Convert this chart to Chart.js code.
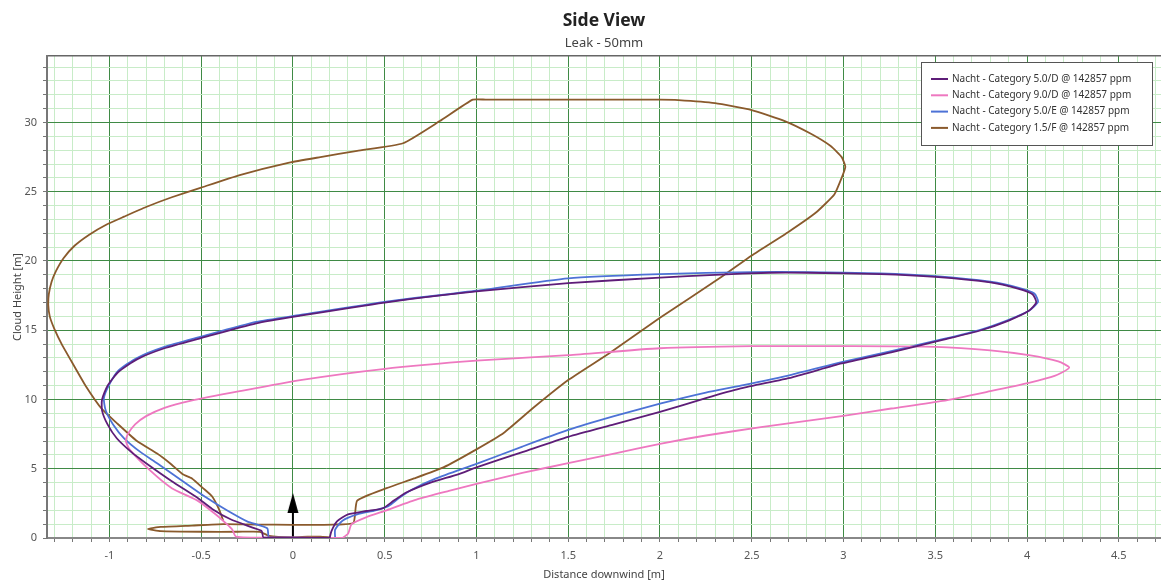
<!DOCTYPE html>
<html><head><meta charset="utf-8">
<script src="https://cdn.jsdelivr.net/npm/chart.js@4.4.1/dist/chart.umd.min.js"></script>
<style>html,body{margin:0;padding:0;background:#fff;}</style>
</head><body>
<canvas id="c" width="1161" height="581"></canvas>
<script>
// ---------- data ----------
const seriesLabels = [
  'Nacht - Category 5.0/D @ 142857 ppm',
  'Nacht - Category 9.0/D @ 142857 ppm',
  'Nacht - Category 5.0/E @ 142857 ppm',
  'Nacht - Category 1.5/F @ 142857 ppm'
];
const cat50D = [[0.20,0.0],[0.21,0.5],[0.24,1.2],[0.30,1.7],[0.40,1.95],[0.49,2.15],[0.55,2.7],[0.62,3.3],[0.75,4.0],[0.90,4.6],[1.0,5.1],[1.25,6.2],[1.5,7.3],[1.75,8.2],[2.0,9.1],[2.25,10.1],[2.44,10.8],[2.72,11.6],[2.99,12.6],[3.26,13.4],[3.54,14.3],[3.75,15.0],[3.90,15.7],[4.01,16.4],[4.05,17.0],[4.03,17.6],[3.95,18.0],[3.80,18.45],[3.5,18.85],[3.2,19.05],[2.8,19.15],[2.6,19.15],[2.3,19.0],[2.0,18.8],[1.5,18.4],[1.0,17.8],[0.5,17.0],[0.04,16.05],[-0.2,15.5],[-0.51,14.4],[-0.70,13.7],[-0.85,12.9],[-0.95,12.0],[-1.01,11.0],[-1.04,10.0],[-1.04,9.2],[-1.01,8.2],[-0.96,7.2],[-0.88,6.2],[-0.80,5.4],[-0.66,4.1],[-0.52,2.9],[-0.44,2.1],[-0.34,1.35],[-0.22,0.75],[-0.17,0.5],[-0.16,0.05],[0.0,0.02],[0.20,0.0]];
const cat90D = [[0.27,0.0],[0.30,0.3],[0.32,1.0],[0.40,1.5],[0.51,2.0],[0.68,2.8],[0.85,3.4],[1.0,3.9],[1.25,4.7],[1.5,5.4],[1.75,6.1],[2.0,6.8],[2.25,7.4],[2.55,8.0],[2.99,8.8],[3.26,9.35],[3.54,9.9],[3.8,10.6],[4.01,11.2],[4.15,11.7],[4.23,12.3],[4.17,12.75],[4.01,13.2],[3.8,13.55],[3.5,13.8],[3.0,13.85],[2.5,13.85],[2.0,13.7],[1.5,13.2],[1.0,12.8],[0.49,12.2],[0.04,11.4],[-0.29,10.6],[-0.56,9.9],[-0.70,9.4],[-0.80,8.8],[-0.86,8.2],[-0.90,7.5],[-0.91,7.0],[-0.89,6.4],[-0.78,4.9],[-0.66,3.6],[-0.52,2.7],[-0.42,1.7],[-0.36,1.0],[-0.33,0.6],[-0.31,0.1],[-0.1,0.02],[0.1,0.02],[0.27,0.0]];
const cat50E = [[0.23,0.0],[0.23,0.6],[0.27,1.25],[0.35,1.7],[0.45,2.0],[0.52,2.3],[0.58,2.9],[0.65,3.5],[0.78,4.3],[1.0,5.35],[1.25,6.6],[1.5,7.8],[1.75,8.8],[2.0,9.7],[2.25,10.5],[2.44,11.0],[2.72,11.8],[2.99,12.7],[3.26,13.5],[3.54,14.35],[3.75,15.05],[3.90,15.75],[4.01,16.4],[4.06,17.05],[4.04,17.65],[3.96,18.05],[3.80,18.5],[3.5,18.9],[3.2,19.1],[2.8,19.2],[2.5,19.2],[2.0,19.05],[1.5,18.75],[1.0,17.85],[0.5,17.05],[0.04,16.1],[-0.2,15.6],[-0.51,14.5],[-0.70,13.8],[-0.85,13.0],[-0.95,12.1],[-1.0,11.1],[-1.03,10.1],[-1.02,9.2],[-0.98,8.2],[-0.92,7.2],[-0.83,6.2],[-0.74,5.4],[-0.60,4.1],[-0.47,2.9],[-0.36,2.0],[-0.25,1.2],[-0.14,0.7],[-0.13,0.05],[0.0,0.02],[0.23,0.0]];
const cat15F = [[-0.38,1.25],[-0.40,2.0],[-0.44,3.0],[-0.49,3.6],[-0.55,4.3],[-0.60,4.6],[-0.67,5.4],[-0.74,6.1],[-0.85,7.0],[-0.96,8.3],[-1.04,9.3],[-1.13,11.0],[-1.20,12.6],[-1.26,14.0],[-1.30,15.1],[-1.325,16.0],[-1.333,16.8],[-1.33,17.6],[-1.315,18.5],[-1.29,19.3],[-1.25,20.2],[-1.19,21.1],[-1.11,21.9],[-1.02,22.6],[-0.92,23.2],[-0.80,23.9],[-0.66,24.6],[-0.50,25.3],[-0.29,26.2],[-0.02,27.1],[0.15,27.5],[0.35,27.95],[0.60,28.5],[0.80,30.1],[0.98,31.65],[1.05,31.65],[2.0,31.65],[2.10,31.62],[2.30,31.4],[2.50,30.9],[2.68,30.1],[2.82,29.2],[2.93,28.3],[2.99,27.5],[3.01,26.8],[2.99,26.0],[2.95,24.8],[2.85,23.5],[2.70,22.1],[2.5,20.4],[2.33,18.8],[2.0,15.9],[1.72,13.3],[1.5,11.4],[1.31,9.4],[1.15,7.6],[1.0,6.4],[0.82,5.1],[0.66,4.3],[0.51,3.6],[0.35,2.7],[0.33,1.1],[0.22,0.97],[0.0,0.95],[-0.2,0.97],[-0.38,1.0],[-0.55,0.9],[-0.72,0.8],[-0.79,0.65],[-0.72,0.5],[-0.5,0.45],[-0.3,0.45],[-0.18,0.45],[-0.13,0.15],[0.0,0.05],[0.08,0.1],[0.15,0.1],[0.2,0.05]];
const arrowStem = [[0,0],[0,2.0]];
const arrowHead = [[0,2.53]];
const xMajorValues = [-1,-0.5,0,0.5,1,1.5,2,2.5,3,3.5,4,4.5];
const xMajorLabels = ['-1','-0.5','0','0.5','1','1.5','2','2.5','3','3.5','4','4.5'];
const yMajorValues = [0,5,10,15,20,25,30];
const yMajorLabels = ['0','5','10','15','20','25','30'];
const xMin = -1.34, xMax = 4.73, yMin = 0, yMax = 34.8;
const xMinorStep = 0.1, yMinorStep = 1;

// ---------- styles ----------
const colors = ['#5e1d78', '#ee78c0', '#4d72d6', '#8a5a2c'];
const FONT = '"Noto Sans", "Open Sans", sans-serif';
const MAJOR = '#3f8a45', MINOR = '#c8ecc8';

function steps(a, b, st) { const out = []; const n = Math.round((b - a) / st); for (let i = 0; i <= n; i++) out.push(Math.round((a + i * st) * 1000) / 1000); return out; }
const xTickValues = steps(-1.3, 4.7, xMinorStep);
const yTickValues = steps(0, 34, yMinorStep);
const near = (v, arr) => arr.findIndex(m => Math.abs(m - v) < 1e-6);
const pts = arr => arr.map(p => ({x: p[0], y: p[1]}));

const arrowImg = document.createElement('canvas');
arrowImg.width = 12; arrowImg.height = 20;
(function(){ const g = arrowImg.getContext('2d'); g.fillStyle = '#000'; g.beginPath(); g.moveTo(6,0); g.lineTo(11.5,20); g.lineTo(0.5,20); g.closePath(); g.fill(); })();

const lineDs = (label, data, color, tension) => ({label, data: pts(data), borderColor: color, backgroundColor: color, borderWidth: 1.8, showLine: true, pointRadius: 0, tension: tension, fill: false});

const insideLegend = {
  id: 'insideLegend',
  afterDraw(chart) {
    const {ctx, chartArea: a} = chart;
    const w = 231, h = 83, left = a.right - 240, top = a.top + 6;
    ctx.save();
    ctx.fillStyle = '#fff'; ctx.fillRect(left, top, w, h);
    ctx.strokeStyle = '#555'; ctx.lineWidth = 1; ctx.strokeRect(left + 0.5, top + 0.5, w, h);
    ctx.font = '10px ' + FONT; ctx.textBaseline = 'middle';
    seriesLabels.forEach((lab, i) => {
      const y = top + 17 + i * 16.3;
      ctx.strokeStyle = colors[i]; ctx.lineWidth = 2;
      ctx.beginPath(); ctx.moveTo(left + 10, y); ctx.lineTo(left + 27, y); ctx.stroke();
      ctx.fillStyle = '#333'; ctx.fillText(lab, left + 31, y);
    });
    ctx.restore();
  }
};

new Chart(document.getElementById('c'), {
  type: 'scatter',
  data: {
    datasets: [
      lineDs(seriesLabels[0], cat50D, colors[0], 0.2),
      lineDs(seriesLabels[1], cat90D, colors[1], 0.2),
      lineDs(seriesLabels[2], cat50E, colors[2], 0.2),
      lineDs(seriesLabels[3], cat15F, colors[3], 0.15),
      {label: 'arrow', data: pts(arrowStem), showLine: true, borderColor: '#000', borderWidth: 2, pointRadius: 0},
      {label: 'arrowhead', data: pts(arrowHead), showLine: false, pointStyle: arrowImg, pointRadius: 6, borderColor: '#000', backgroundColor: '#000'}
    ]
  },
  options: {
    responsive: false, animation: false, devicePixelRatio: 1,
    layout: {padding: 0, autoPadding: false},
    plugins: {
      legend: {display: false},
      tooltip: {enabled: false},
      title: {display: true, fullSize: false, text: 'Side View', color: '#222', font: {family: FONT, size: 17.5, weight: 'bold'}, padding: {top: 11, bottom: 1}},
      subtitle: {display: true, fullSize: false, text: 'Leak - 50mm', color: '#444', font: {family: FONT, size: 13}, padding: {top: 2, bottom: 5.4}}
    },
    scales: {
      x: {
        type: 'linear', position: 'bottom', min: xMin, max: xMax,
        afterBuildTicks: s => { s.ticks = xTickValues.map(v => ({value: v})); },
        afterFit: s => { s.height = 43; s.paddingRight = 0; s.paddingLeft = 0; },
        ticks: {autoSkip: false, maxRotation: 0, padding: 7, color: '#555', font: {family: FONT, size: 11},
          callback: v => { const i = near(v, xMajorValues); return i >= 0 ? xMajorLabels[i] : ''; }},
        grid: {color: c => (c.tick && near(c.tick.value, xMajorValues) >= 0) ? MAJOR : MINOR, lineWidth: 1, tickLength: 4, tickColor: '#777'},
        border: {display: true, color: '#888', width: 2},
        title: {display: true, text: 'Distance downwind [m]', color: '#444', font: {family: FONT, size: 11}, padding: {top: 1.5, bottom: 0}}
      },
      x2: {
        type: 'linear', position: 'top', min: xMin, max: xMax,
        grid: {display: false, drawTicks: false}, ticks: {display: false},
        border: {display: true, color: '#666', width: 1.5},
        afterFit: s => { s.height = 0; s.paddingRight = 0; s.paddingLeft = 0; }
      },
      y: {
        type: 'linear', position: 'left', min: yMin, max: yMax,
        afterBuildTicks: s => { s.ticks = yTickValues.map(v => ({value: v})); },
        afterFit: s => { s.width = 47; s.paddingTop = 0; s.paddingBottom = 0; },
        ticks: {autoSkip: false, padding: 6, color: '#555', font: {family: FONT, size: 11},
          callback: v => { const i = near(v, yMajorValues); return i >= 0 ? yMajorLabels[i] : ''; }},
        grid: {color: c => (c.tick && near(c.tick.value, yMajorValues) >= 0) ? MAJOR : MINOR, lineWidth: 1, tickLength: 4, tickColor: '#777'},
        border: {display: true, color: '#777', width: 2},
        title: {display: true, text: 'Cloud Height [m]', color: '#444', font: {family: FONT, size: 11}, padding: {top: 11, bottom: 0}}
      }
    }
  },
  plugins: [insideLegend]
});
</script>
</body></html>
